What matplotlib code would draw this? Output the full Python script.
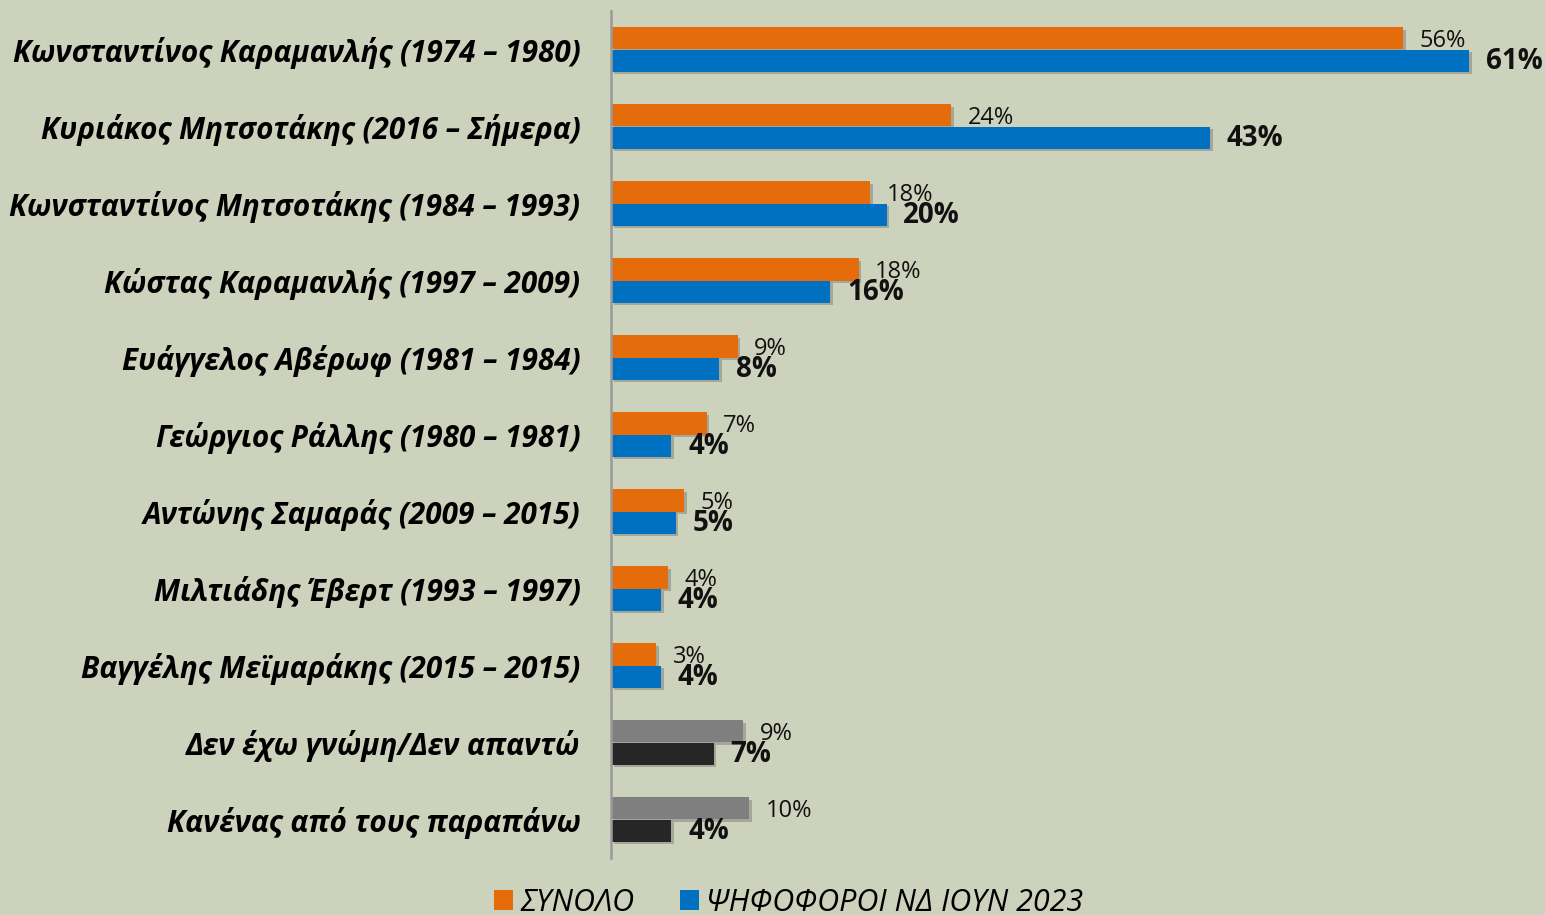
import matplotlib
matplotlib.use("Agg")
import matplotlib.pyplot as plt
from matplotlib.patches import Patch
import matplotlib.patheffects as pe
import numpy as np

categories = [
    "Κωνσταντίνος Καραμανλής (1974 – 1980)",
    "Κυριάκος Μητσοτάκης (2016 – Σήμερα)",
    "Κωνσταντίνος Μητσοτάκης (1984 – 1993)",
    "Κώστας Καραμανλής (1997 – 2009)",
    "Ευάγγελος Αβέρωφ (1981 – 1984)",
    "Γεώργιος Ράλλης (1980 – 1981)",
    "Αντώνης Σαμαράς (2009 – 2015)",
    "Μιλτιάδης Έβερτ (1993 – 1997)",
    "Βαγγέλης Μεϊμαράκης (2015 – 2015)",
    "Δεν έχω γνώμη/Δεν απαντώ",
    "Κανένας από τους παραπάνω",
]
total = [56.3, 24.2, 18.4, 17.6, 9.0, 6.8, 5.2, 4.05, 3.2, 9.4, 9.8]
nd_voters = [61.0, 42.6, 19.6, 15.6, 7.7, 4.3, 4.6, 3.55, 3.55, 7.3, 4.3]
series_names = ["ΣΥΝΟΛΟ", "ΨΗΦΟΦΟΡΟΙ ΝΔ ΙΟΥΝ 2023"]

BG = "#CDD2BC"
ORANGE = "#E46C0A"
BLUE = "#0070C0"
GRAY = "#7F7F7F"
DARK = "#262626"
FONT = ["Open Sans", "DejaVu Sans"]

plt.rcParams['font.family'] = FONT

fig = plt.figure(figsize=(15.45, 9.15), dpi=100, facecolor=BG)
ax = fig.add_axes([611 / 1545, 1 - 858 / 915, 1 - 611 / 1545, (858 - 11) / 915])
ax.set_facecolor(BG)

n = len(categories)
y = np.arange(n)
h = 0.286
special = {9, 10}
c1 = [GRAY if i in special else ORANGE for i in range(n)]
c2 = [DARK if i in special else BLUE for i in range(n)]

shadow = [pe.SimplePatchShadow(offset=(2, -2), shadow_rgbFace="#555", alpha=0.35), pe.Normal()]
b1 = ax.barh(y - h / 2, total, height=h, color=c1, path_effects=shadow)
b2 = ax.barh(y + h / 2, nd_voters, height=h, color=c2, path_effects=shadow)

for i in range(n):
    ax.annotate(f"{total[i]:.0f}%", (total[i], y[i] - h / 2), xytext=(12, -2),
                textcoords="offset points", va="center", ha="left",
                fontsize=17, color="#111")
    ax.annotate(f"{nd_voters[i]:.0f}%", (nd_voters[i], y[i] + h / 2), xytext=(12, -1),
                textcoords="offset points", va="center", ha="left",
                fontsize=20, fontweight="bold", color="#111")

ax.set_xlim(0, 66.4)
ax.set_ylim(n - 0.5, -0.5)
ax.set_yticks(y)
ax.set_yticklabels(categories, fontsize=21.3, fontweight="bold", fontstyle="italic")
ax.tick_params(axis="y", length=0, pad=22)
ax.set_xticks([])
for s in ["top", "right", "bottom"]:
    ax.spines[s].set_visible(False)
ax.spines["left"].set_color("#9A9A9A")
ax.spines["left"].set_linewidth(1.8)

handles = [Patch(facecolor=ORANGE), Patch(facecolor=BLUE)]
fig.legend(handles, series_names, loc="center", bbox_to_anchor=(789 / 1545, 1 - 903 / 915),
           ncol=2, frameon=False, prop={"size": 22, "style": "italic"},
           handlelength=0.6, handleheight=0.65, handletextpad=0.25, columnspacing=1.5,
           borderpad=0, borderaxespad=0)

fig.savefig("out.png", dpi=100, facecolor=BG)
